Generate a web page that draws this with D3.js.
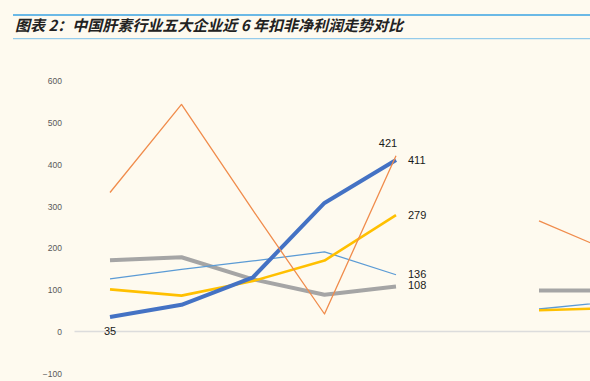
<!DOCTYPE html>
<html>
<head>
<meta charset="utf-8">
<script src="https://cdn.jsdelivr.net/npm/d3@7"></script>
<style>
  body { margin: 0; background: #fefaef; }
  svg { display: block; }
  .tick text { font-family: "Liberation Sans", Arial, sans-serif; }
</style>
</head>
<body>
<div id="chart"></div>
<script>
// categories (index 5 is a gap, the right part belongs to the next panel)
var years = ["Y1", "Y2", "Y3", "Y4", "Y5", "gap", "Y7", "Y8"];

var orangeVals = [333, 544, 290, 42, 421, null, 265, 192],
    blueVals = [35, 64, 130, 308, 411, null, null, null],
    grayVals = [171, 178, 125, 88, 108, null, 98, 98],
    yellowVals = [101, 86, 121, 170, 279, null, 51, 56],
    lightBlueVals = [126, 149, 169, 191, 136, null, 54, 71];

var yTicks = [-100, 0, 100, 200, 300, 400, 500, 600];

var title = "图表 2：中国肝素行业五大企业近 6 年扣非净利润走势对比";

var width = 590,
    height = 381;

var svg = d3.select("#chart").append("svg")
    .attr("width", width)
    .attr("height", height);

svg.append("rect")
    .attr("width", width)
    .attr("height", height)
    .attr("fill", "#fefaef");

// title block
svg.append("line")
    .attr("x1", 13).attr("x2", width)
    .attr("y1", 15).attr("y2", 15)
    .attr("stroke", "#3aa3e3")
    .attr("stroke-width", 1.6);

svg.append("line")
    .attr("x1", 13).attr("x2", width)
    .attr("y1", 38.7).attr("y2", 38.7)
    .attr("stroke", "#7cc0ea")
    .attr("stroke-width", 1);

svg.append("text")
    .attr("x", 15)
    .attr("y", 31)
    .style("font-family", "'Noto Sans CJK SC', sans-serif")
    .style("font-weight", "bold")
    .style("font-style", "italic")
    .style("font-size", "15px")
    .attr("fill", "#222")
    .text(title);

var x = d3.scaleLinear()
    .domain([0, years.length - 1])
    .range([110, 110 + 71.5 * (years.length - 1)]);

var y = d3.scaleLinear()
    .domain([-100, 600])
    .range([373.3, 81]);

var yAxis = d3.axisLeft(y)
    .tickValues(yTicks)
    .tickSize(0)
    .tickPadding(0);

var gy = svg.append("g")
    .attr("transform", "translate(62,0)")
    .call(yAxis);
gy.select(".domain").remove();
gy.selectAll("text")
    .attr("fill", "#595959")
    .style("font-size", "8.5px");

// zero line
svg.append("line")
    .attr("x1", 74.5).attr("x2", width)
    .attr("y1", y(0)).attr("y2", y(0))
    .attr("stroke", "#dcdcdc")
    .attr("stroke-width", 1.5);

var series = [
    {name: "gray", values: grayVals, color: "#a5a5a5", w: 4},
    {name: "lightblue", values: lightBlueVals, color: "#5b9bd5", w: 1.3},
    {name: "yellow", values: yellowVals, color: "#ffc000", w: 2.6},
    {name: "blue", values: blueVals, color: "#4472c4", w: 4},
    {name: "orange", values: orangeVals, color: "#f08c4c", w: 1.3}
];

var line = d3.line()
    .defined(function(d) { return d != null; })
    .x(function(d, i) { return x(i); })
    .y(function(d) { return y(d); });

svg.selectAll(".series")
    .data(series)
    .enter().append("path")
    .attr("class", "series")
    .attr("fill", "none")
    .attr("stroke", function(d) { return d.color; })
    .attr("stroke-width", function(d) { return d.w; })
    .attr("stroke-linejoin", "round")
    .attr("d", function(d) { return line(d.values); });

// data labels
var labels = [
    {vals: orangeVals, i: 4, dx: -8, dy: -13, anchor: "middle"},
    {vals: blueVals, i: 4, dx: 12, dy: 0, anchor: "start"},
    {vals: yellowVals, i: 4, dx: 12, dy: 0, anchor: "start"},
    {vals: lightBlueVals, i: 4, dx: 12, dy: -0.8, anchor: "start"},
    {vals: grayVals, i: 4, dx: 12, dy: -1.2, anchor: "start"},
    {vals: blueVals, i: 0, dx: 0, dy: 14, anchor: "middle"}
];

svg.selectAll(".dlabel")
    .data(labels)
    .enter().append("text")
    .attr("class", "dlabel")
    .attr("x", function(d) { return x(d.i) + d.dx; })
    .attr("y", function(d) { return y(d.vals[d.i]) + d.dy; })
    .attr("dy", "0.35em")
    .attr("text-anchor", function(d) { return d.anchor; })
    .style("font-family", "'Liberation Sans', Arial, sans-serif")
    .style("font-size", "11px")
    .attr("fill", "#1a1a1a")
    .text(function(d) { return d.vals[d.i]; });
</script>
</body>
</html>
